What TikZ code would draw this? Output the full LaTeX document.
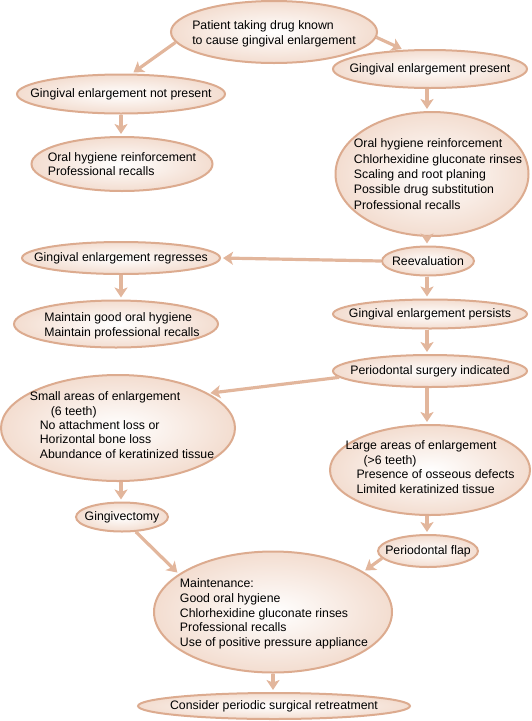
\documentclass[tikz,border=0pt]{standalone}
\usepackage{fontspec}
\setmainfont{Liberation Sans}
\usetikzlibrary{shapes.geometric,arrows.meta}
\definecolor{edgec}{HTML}{DCAB8F}
\definecolor{arrc}{HTML}{E2B69C}
\definecolor{fillout}{HTML}{F3DDD0}
\tikzset{
  ell/.style={ellipse, draw=edgec, line width=2pt, inner sep=0pt,
    shading=radial, inner color=white, outer color=fillout},
  txt/.style={align=left, inner sep=0pt, font=\fontsize{12.3}{14.6}\selectfont},
  arr/.style={draw=arrc, line width=3.2pt,
    -{Stealth[length=10pt,width=13pt,inset=2.5pt]}, shorten >=2pt, shorten <=0pt},
}
\begin{document}
\begin{tikzpicture}[x=1pt,y=-1pt]
\useasboundingbox (0,0) rectangle (531,721);
\node[ell, minimum width=206pt, minimum height=62pt] (top) at (274,32) {};
\node[txt] (topt) at ([yshift=-2pt]top) {Patient taking drug known\\to cause gingival enlargement};
\node[ell, minimum width=208pt, minimum height=39pt] (notp) at (121,94) {};
\node[txt] (notpt) at (notp) {Gingival enlargement not present};
\node[ell, minimum width=194pt, minimum height=38pt] (pres) at (430,69) {};
\node[txt] (prest) at (pres) {Gingival enlargement present};
\node[ell, minimum width=181pt, minimum height=54pt] (ohl) at (122,164) {};
\node[txt] (ohlt) at (ohl) {Oral hygiene reinforcement\\Professional recalls};
\node[ell, minimum width=193pt, minimum height=124pt] (ohr) at (432,174) {};
\node[txt, font=\fontsize{12.3}{15.4}\selectfont] (ohrt) at ([xshift=6pt]ohr) {Oral hygiene reinforcement\\Chlorhexidine gluconate rinses\\Scaling and root planing\\Possible drug substitution\\Professional recalls};
\node[ell, minimum width=92pt, minimum height=29pt] (reev) at (428,261) {};
\node[txt] (reevt) at (reev) {Reevaluation};
\node[ell, minimum width=198pt, minimum height=32pt] (regr) at (121,258) {};
\node[txt] (regrt) at (regr) {Gingival enlargement regresses};
\node[ell, minimum width=204pt, minimum height=47pt] (maint) at (116,324) {};
\node[txt] (maintt) at ([xshift=6pt,yshift=-2pt]maint) {Maintain good oral hygiene\\Maintain professional recalls};
\node[ell, minimum width=194pt, minimum height=29pt] (pers) at (430,314) {};
\node[txt] (perst) at (pers) {Gingival enlargement persists};
\node[ell, minimum width=234pt, minimum height=106pt] (small) at (118,428) {};
\node[txt, font=\fontsize{12.3}{14.3}\selectfont] (smallt) at ([xshift=4pt,yshift=3pt]small) {Small areas of enlargement\\\hspace*{21pt}(6 teeth)\\\hspace*{10pt}No attachment loss or\\\hspace*{10pt}Horizontal bone loss\\\hspace*{10pt}Abundance of keratinized tissue};
\node[ell, minimum width=194pt, minimum height=32pt] (psi) at (430,371) {};
\node[txt] (psit) at (psi) {Periodontal surgery indicated};
\node[ell, minimum width=200pt, minimum height=90pt] (large) at (430,470) {};
\node[txt] (larget) at ([yshift=3pt]large) {Large areas of enlargement\\\hspace*{18pt}(>6 teeth)\\\hspace*{11pt}Presence of osseous defects\\\hspace*{11pt}Limited keratinized tissue};
\node[ell, minimum width=92pt, minimum height=29pt] (gvec) at (122,517) {};
\node[txt] (gvect) at (gvec) {Gingivectomy};
\node[ell, minimum width=100pt, minimum height=32pt] (flap) at (428,551) {};
\node[txt] (flapt) at (flap) {Periodontal flap};
\node[ell, minimum width=238pt, minimum height=121pt] (mnt) at (273,612) {};
\node[txt] (mntt) at ([xshift=1pt,yshift=-2pt]mnt) {Maintenance:\\Good oral hygiene\\Chlorhexidine gluconate rinses\\Professional recalls\\Use of positive pressure appliance};
\node[ell, minimum width=272pt, minimum height=26pt] (cons) at (274,706) {};
\node[txt] (const) at (cons) {Consider periodic surgical retreatment};

\draw[arr] (top.186) -- (notp.62);
\draw[arr] (top.-3) -- (pres.144);
\draw[arr] (notp.south) -- (notp.south |- ohl.north);
\draw[arr] ([xshift=-3pt]pres.south) -- ([xshift=-3pt]pres.south |- ohr.north);
\draw[arr] ([xshift=-5pt]ohr.south) -- ([xshift=-5pt]ohr.south |- reev.north);
\draw[arr] (reev.west) -- (regr.east);
\draw[arr] (regr.south) -- (regr.south |- maint.north);
\draw[arr] ([xshift=-1pt]reev.south) -- ([xshift=-1pt]reev.south |- pers.north);
\draw[arr] ([xshift=-3pt]pers.south) -- ([xshift=-3pt]pers.south |- psi.north);
\draw[arr] (psi.184) -- (small.21);
\draw[arr] ([xshift=-3pt]psi.south) -- ([xshift=-3pt]psi.south |- large.north);
\draw[arr] ([xshift=3pt]small.south) -- ([xshift=3pt]small.south |- gvec.north);
\draw[arr] ([xshift=-3pt]large.south) -- ([xshift=-3pt]large.south |- flap.north);
\draw[arr] (gvec.-47) -- (mnt.158);
\draw[arr] (flap.189) -- (mnt.24);
\draw[arr] (mnt.south) -- (mnt.south |- cons.north);
\end{tikzpicture}
\end{document}
